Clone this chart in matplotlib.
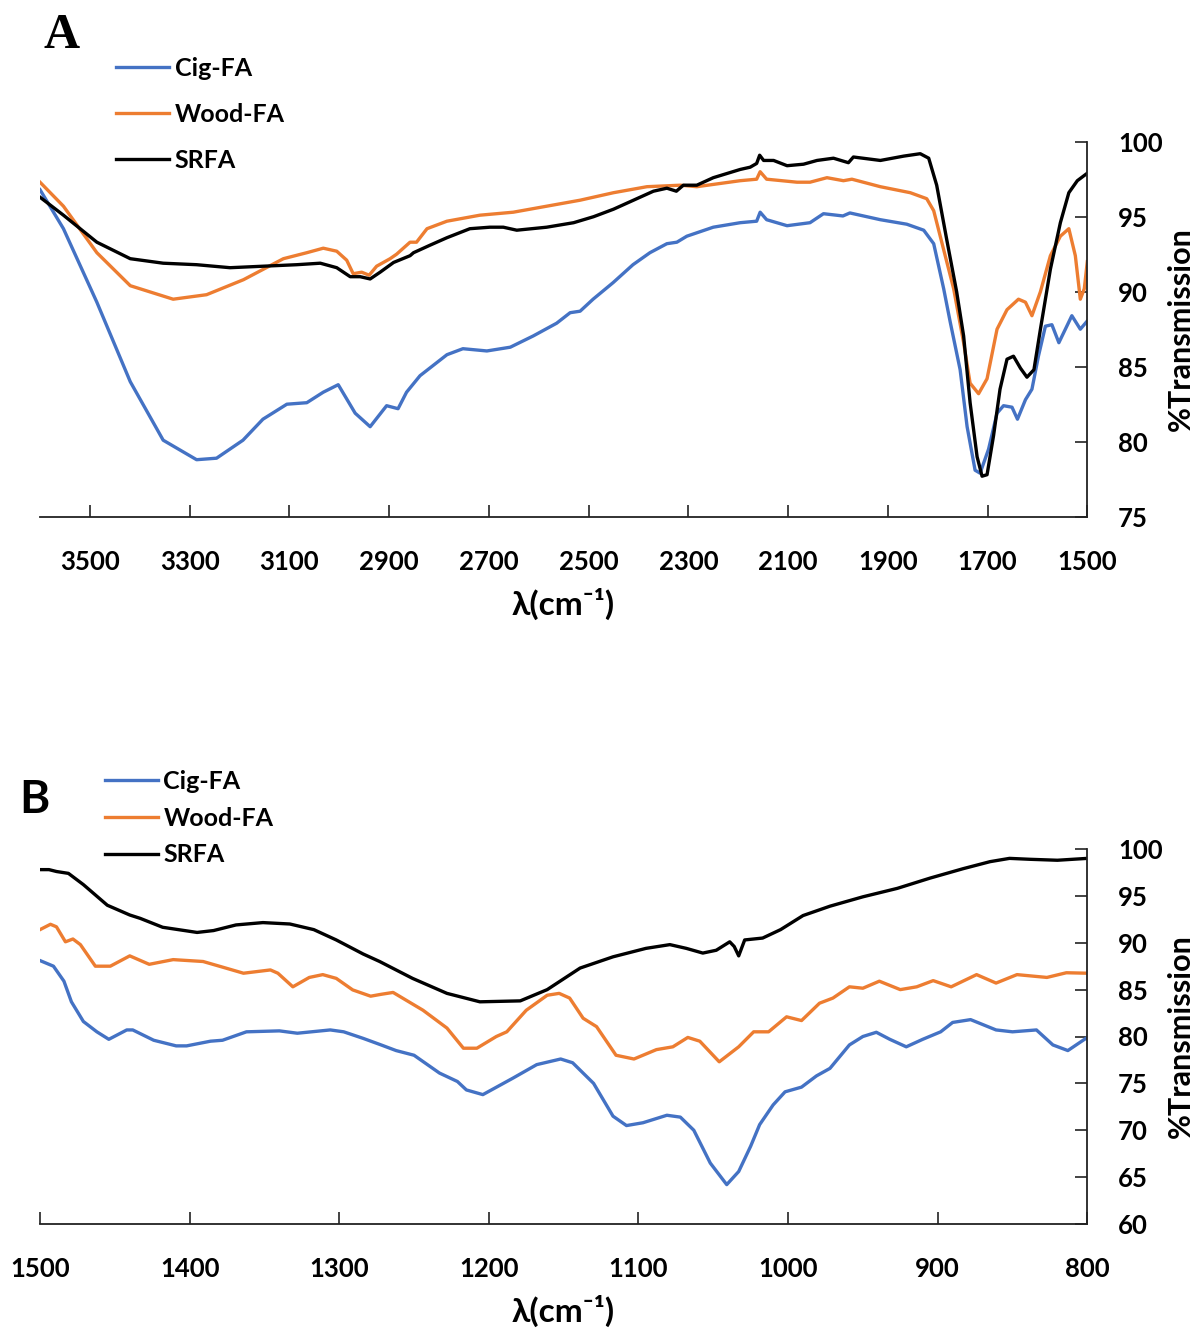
import matplotlib
matplotlib.use("Agg")
import matplotlib.pyplot as plt

plt.rcParams['font.family'] = ['Lato', 'DejaVu Sans']
plt.rcParams['font.weight'] = 'bold'

# ---------------- Panel A data (wavenumber cm-1, %T) ----------------
a_cig_x = [3600, 3553, 3486, 3419, 3353, 3286, 3246, 3193, 3153, 3105, 3065, 3032, 3002,
           2968, 2938, 2905, 2882, 2865, 2838, 2784, 2752, 2704, 2657, 2611, 2564, 2537,
           2517, 2491, 2451, 2411, 2377, 2343, 2323, 2303, 2250, 2196, 2163, 2156, 2143,
           2102, 2056, 2029, 1990, 1976, 1915, 1862, 1828, 1808, 1788, 1775, 1755, 1741,
           1725, 1715, 1698, 1681, 1668, 1651, 1640, 1624, 1611, 1598, 1584, 1571, 1557,
           1544, 1531, 1514, 1500]
a_cig_y = [96.8, 94.2, 89.3, 84.0, 80.1, 78.8, 78.9, 80.1, 81.5, 82.5, 82.6, 83.3, 83.8,
           81.9, 81.0, 82.4, 82.2, 83.3, 84.4, 85.8, 86.2, 86.05, 86.3, 87.05, 87.9, 88.6,
           88.7, 89.5, 90.6, 91.8, 92.6, 93.2, 93.3, 93.7, 94.3, 94.6, 94.7, 95.3, 94.8,
           94.4, 94.6, 95.2, 95.05, 95.25, 94.8, 94.5, 94.1, 93.2, 90.2, 88.0, 84.8, 81.0,
           78.1, 77.9, 79.5, 81.9, 82.4, 82.3, 81.5, 82.8, 83.5, 85.7, 87.7, 87.8, 86.6,
           87.5, 88.4, 87.5, 88.05]

a_wood_x = [3600, 3553, 3486, 3419, 3333, 3266, 3192, 3112, 3065, 3032, 3005, 2985, 2972,
            2955, 2940, 2925, 2898, 2885, 2858, 2845, 2824, 2784, 2718, 2651, 2584, 2517,
            2450, 2383, 2316, 2283, 2196, 2163, 2156, 2143, 2082, 2056, 2022, 1989, 1972,
            1915, 1855, 1822, 1808, 1788, 1768, 1748, 1735, 1718, 1701, 1681, 1661, 1638,
            1624, 1611, 1594, 1574, 1554, 1537, 1524, 1514, 1506, 1500]
a_wood_y = [97.3, 95.7, 92.6, 90.4, 89.5, 89.8, 90.8, 92.2, 92.6, 92.9, 92.7, 92.1, 91.2,
            91.3, 91.1, 91.7, 92.2, 92.5, 93.3, 93.3, 94.2, 94.7, 95.1, 95.3, 95.7, 96.1,
            96.6, 97.0, 97.1, 97.0, 97.4, 97.5, 98.0, 97.5, 97.3, 97.3, 97.6, 97.4, 97.5,
            97.0, 96.6, 96.2, 95.4, 92.8, 90.2, 86.6, 83.9, 83.2, 84.2, 87.5, 88.8, 89.5,
            89.3, 88.4, 90.0, 92.4, 93.7, 94.2, 92.4, 89.5, 90.2, 92.0]

a_srfa_x = [3600, 3553, 3486, 3419, 3353, 3286, 3219, 3152, 3085, 3038, 3005, 2978, 2958,
            2938, 2918, 2891, 2858, 2851, 2818, 2784, 2738, 2698, 2671, 2644, 2584, 2530,
            2490, 2450, 2410, 2370, 2343, 2324, 2310, 2283, 2250, 2196, 2176, 2163, 2157,
            2149, 2129, 2102, 2069, 2042, 2009, 1979, 1969, 1915, 1868, 1835, 1818, 1802,
            1782, 1762, 1748, 1735, 1721, 1711, 1701, 1688, 1675, 1661, 1648, 1634, 1621,
            1607, 1594, 1574, 1554, 1537, 1520, 1500]
a_srfa_y = [96.3, 95.1, 93.3, 92.2, 91.9, 91.8, 91.6, 91.7, 91.8, 91.9, 91.6, 91.0, 91.0,
            90.85, 91.3, 91.95, 92.4, 92.6, 93.1, 93.6, 94.2, 94.3, 94.3, 94.1, 94.3, 94.6,
            95.0, 95.5, 96.1, 96.7, 96.9, 96.7, 97.1, 97.1, 97.6, 98.15, 98.3, 98.55, 99.1,
            98.75, 98.75, 98.4, 98.5, 98.75, 98.9, 98.6, 98.98, 98.75, 99.04, 99.2, 98.9, 97.1,
            93.5, 90.0, 87.05, 82.6, 79.0, 77.7, 77.8, 80.4, 83.5, 85.5, 85.7, 84.9, 84.3,
            84.8, 87.5, 91.5, 94.6, 96.6, 97.4, 97.9]

# ---------------- Panel B data ----------------
b_cig_x = [1500, 1491, 1484, 1479, 1471, 1462, 1454, 1442, 1438, 1424, 1409, 1402, 1386,
           1378, 1362, 1340, 1328, 1306, 1297, 1284, 1272, 1262, 1250, 1233, 1221, 1215,
           1204, 1184, 1168, 1152, 1144, 1130, 1117, 1108, 1097, 1081, 1072, 1063, 1052,
           1041, 1033, 1025, 1019, 1010, 1002, 991, 981, 972, 959, 950, 941, 932, 921,
           910, 898, 890, 878, 861, 850, 834, 823, 813, 800]
b_cig_y = [88.1, 87.5, 85.9, 83.7, 81.6, 80.5, 79.7, 80.7, 80.7, 79.6, 79.0, 79.0, 79.5,
           79.6, 80.5, 80.6, 80.35, 80.7, 80.5, 79.8, 79.1, 78.5, 78.0, 76.1, 75.2, 74.3,
           73.8, 75.55, 77.0, 77.6, 77.2, 75.0, 71.5, 70.5, 70.8, 71.6, 71.4, 70.0, 66.5,
           64.2, 65.6, 68.3, 70.6, 72.7, 74.1, 74.6, 75.8, 76.6, 79.1, 80.0, 80.45, 79.7, 78.9,
           79.7, 80.5, 81.5, 81.8, 80.7, 80.5, 80.7, 79.1, 78.5, 79.9]

b_wood_x = [1500, 1493, 1489, 1483, 1478, 1473, 1463, 1453, 1440, 1427, 1411, 1391, 1378,
            1364, 1346, 1341, 1331, 1320, 1311, 1302, 1291, 1279, 1272, 1264, 1244, 1228,
            1217, 1208, 1195, 1188, 1175, 1161, 1153, 1146, 1137, 1128, 1115, 1103, 1088,
            1077, 1067, 1059, 1046, 1033, 1023, 1013, 1001, 991, 979, 970, 959, 950, 939,
            925, 914, 903, 891, 874, 861, 847, 827, 814, 800]
b_wood_y = [91.4, 91.97, 91.7, 90.1, 90.4, 89.8, 87.5, 87.5, 88.6, 87.7, 88.2, 88.0, 87.4,
            86.75, 87.1, 86.75, 85.3, 86.3, 86.6, 86.2, 84.97, 84.3, 84.5, 84.7, 82.8, 80.9,
            78.75, 78.75, 80.0, 80.5, 82.8, 84.4, 84.6, 84.1, 81.95, 81.05, 78.0, 77.6, 78.6,
            78.9, 79.9, 79.5, 77.3, 78.9, 80.5, 80.5, 82.1, 81.7, 83.55, 84.1, 85.3, 85.15, 85.9,
            85.0, 85.3, 85.96, 85.3, 86.6, 85.7, 86.6, 86.3, 86.8, 86.75]

b_srfa_x = [1500, 1494, 1489, 1481, 1471, 1455, 1440, 1433, 1418, 1395, 1384, 1369, 1351,
            1333, 1317, 1302, 1284, 1273, 1251, 1228, 1206, 1179, 1161, 1139, 1117, 1095,
            1079, 1068, 1057, 1048, 1039, 1036, 1033, 1029, 1017, 1005, 990, 972, 950, 927,
            905, 883, 865, 852, 838, 820, 800]
b_srfa_y = [97.8, 97.8, 97.6, 97.4, 96.2, 94.0, 92.96, 92.6, 91.65, 91.1, 91.3, 91.9, 92.15,
            92.0, 91.4, 90.3, 88.8, 88.0, 86.2, 84.6, 83.7, 83.8, 85.0, 87.3, 88.5, 89.4,
            89.8, 89.4, 88.9, 89.2, 90.1, 89.6, 88.6, 90.3, 90.5, 91.4, 92.9, 93.9, 94.9, 95.8,
            96.9, 97.9, 98.65, 99.0, 98.9, 98.8, 99.0]

series_labels = ["Cig-FA", "Wood-FA", "SRFA"]
series_colors = ["#4472C4", "#ED7D31", "#000000"]

a_xticks = [3500, 3300, 3100, 2900, 2700, 2500, 2300, 2100, 1900, 1700, 1500]
a_yticks = [75, 80, 85, 90, 95, 100]
b_xticks = [1500, 1400, 1300, 1200, 1100, 1000, 900, 800]
b_yticks = [60, 65, 70, 75, 80, 85, 90, 95, 100]

W, H = 1202, 1336
fig = plt.figure(figsize=(W / 100, H / 100), dpi=100)


def px_rect(l, t, r, b):
    return [l / W, 1 - b / H, (r - l) / W, (b - t) / H]


axA = fig.add_axes(px_rect(40, 141.7, 1087.3, 516.7))
axB = fig.add_axes(px_rect(40, 849, 1087.3, 1224))

LW = 2.4


def style(ax, xlim, ylim, xt, yt):
    ax.set_xlim(*xlim)
    ax.set_ylim(*ylim)
    ax.set_xticks(xt)
    ax.set_yticks(yt)
    ax.yaxis.tick_right()
    ax.yaxis.set_label_position('right')
    for s in ['top', 'left']:
        ax.spines[s].set_visible(False)
    for s in ['bottom', 'right']:
        ax.spines[s].set_color('#222222')
        ax.spines[s].set_linewidth(1.3)
    ax.tick_params(axis='x', direction='in', length=9, width=1.2, color='#222222',
                   labelsize=18.5, pad=24)
    ax.tick_params(axis='y', direction='in', length=9, width=1.2, color='#222222',
                   labelsize=18.5, pad=22, right=True, left=False)
    for lab in ax.get_xticklabels() + ax.get_yticklabels():
        lab.set_fontweight('bold')
    ax.set_ylabel('%Transmission', fontsize=22, fontweight='bold', labelpad=3)
    ax.set_xlabel('λ(cm⁻¹)', fontsize=24, fontweight='bold', labelpad=10)


for ax, data in [(axA, [(a_cig_x, a_cig_y), (a_wood_x, a_wood_y), (a_srfa_x, a_srfa_y)]),
                 (axB, [(b_cig_x, b_cig_y), (b_wood_x, b_wood_y), (b_srfa_x, b_srfa_y)])]:
    for (x, y), lab, c in zip(data, series_labels, series_colors):
        ax.plot(x, y, color=c, lw=LW, label=lab, solid_joinstyle='round')

style(axA, (3600, 1500), (75, 100), a_xticks, a_yticks)
style(axB, (1500, 800), (60, 100), b_xticks, b_yticks)

legA = axA.legend(loc='upper left', bbox_to_anchor=(116 / W, 1 - 57 / H),
                  bbox_transform=fig.transFigure, frameon=False,
                  prop={'weight': 'bold', 'size': 18}, handlelength=2.1,
                  handletextpad=0.24, labelspacing=0.91, borderpad=0, borderaxespad=0)
legB = axB.legend(loc='upper left', bbox_to_anchor=(105 / W, 1 - 770 / H),
                  bbox_transform=fig.transFigure, frameon=False,
                  prop={'weight': 'bold', 'size': 18}, handlelength=2.1,
                  handletextpad=0.24, labelspacing=0.55, borderpad=0, borderaxespad=0)

fig.text(43 / W, 1 - 48 / H, 'A', family='Liberation Serif', fontweight='bold',
         fontsize=36, ha='left', va='baseline')
fig.text(19 / W, 1 - 813 / H, 'B', family=['Lato', 'DejaVu Sans'], fontweight='bold',
         fontsize=33, ha='left', va='baseline')

fig.savefig('out.png', dpi=100)
